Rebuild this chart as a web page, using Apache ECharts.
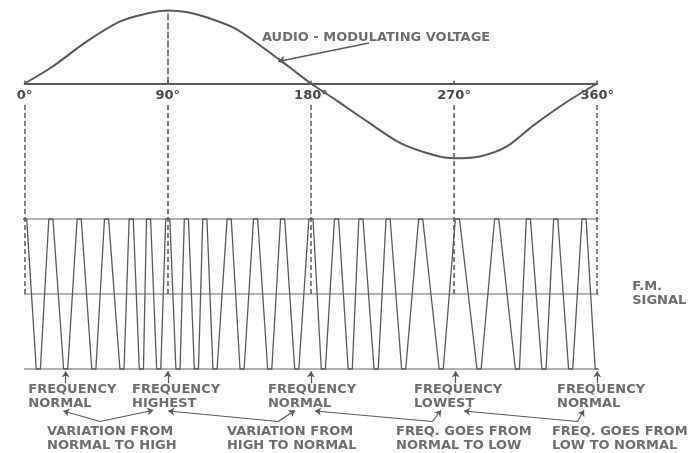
<!DOCTYPE html>
<html><head><meta charset="utf-8">
<script src="https://cdn.jsdelivr.net/npm/echarts@6/dist/echarts.min.js"></script>
<style>html,body{margin:0;padding:0;background:#fff}#c{width:688px;height:453px}</style>
</head><body><div id="c"></div>
<script>
// ---------- data (angles in degrees of the audio cycle) ----------
const tickDegrees = [0, 90, 180, 270, 360];

// audio-modulating voltage (+1 = positive peak)
const sineDeg = [0, 17.4, 38.7, 60, 77, 90, 102.5, 115.2, 132.2, 149.1, 166.1, 180, 195.3, 216, 236.6, 257.2, 270, 286.2, 302.9, 319.5, 340.3, 360];
const sineVal = [0, 0.23, 0.57, 0.85, 0.96, 1.0, 0.975, 0.9, 0.756, 0.504, 0.23, 0, -0.22, -0.53, -0.82, -0.98, -1.025, -1.0, -0.866, -0.58, -0.26, 0];

// F.M. signal: crest and trough positions
const fmPeakDeg = [0, 16.5, 34.3, 51.5, 67.0, 77.9, 90, 101.7, 113.3, 128.6, 145.2, 162.2, 180, 196.1, 211.4, 228.5, 249.0, 272.1, 296.8, 316.7, 333.9, 351.7];
const fmTroughDeg = [8.6, 25.8, 43.5, 61.2, 73.4, 84.3, 96.4, 108.0, 119.7, 136.7, 154.1, 171.1, 187.8, 204.7, 221.0, 238.3, 261.9, 285.7, 309.8, 326.5, 343.3, 360];
const fmStartDeg = -4.2;
const fmEndDeg = 365.5;

// reference lines of the F.M. signal (level, start, end)
const refLevel = [1, 0, -1];
const refStartDeg = [-11.1, -9.8, -4.2];
const refEndDeg = [365.5, 378.1, 371.2];

// annotations
const curveLabel = 'AUDIO - MODULATING VOLTAGE';
const signalLabel = 'F.M.\nSIGNAL';
const stateLabels = ['FREQUENCY\nNORMAL', 'FREQUENCY\nHIGHEST', 'FREQUENCY\nNORMAL', 'FREQUENCY\nLOWEST', 'FREQUENCY\nNORMAL'];
const stateLabelDeg = [2.3, 67.5, 153.0, 244.8, 334.7];
const stateArrowDeg = [25.8, 90, 180, 271, 360];
const changeLabels = ['VARIATION FROM\nNORMAL TO HIGH', 'VARIATION FROM\nHIGH TO NORMAL', 'FREQ. GOES FROM\nNORMAL TO LOW', 'FREQ. GOES FROM\nLOW TO NORMAL'];
const changeLabelDeg = [14.1, 127.2, 233.5, 331.5];
const changeApexDeg = [47.4, 159.5, 256.3, 347.5];
const changeLeftDeg = [24.3, 90.3, 182.5, 276.2];
const changeRightDeg = [80.9, 170.0, 261.8, 351.7];

// ---------- style ----------
const LINE = '#5b5b5b';
const TEXT = '#4a4a4a';
const FONT = 'DejaVu Sans';
const FLAT = 1.3;            // half-width of flattened crests (deg)
const labelStyle = {show: true, position: 'right', distance: 0, color: TEXT, fontFamily: FONT, fontWeight: 'bold', fontSize: 13, lineHeight: 14, formatter: '{b}'};

// ---------- build ----------
const sineData = sineDeg.map((d, i) => [d, sineVal[i]]);
const ext = fmPeakDeg.map(d => [d, 1]).concat(fmTroughDeg.map(d => [d, -1])).sort((a, b) => a[0] - b[0]);
const fmData = [[fmStartDeg, 0]];
ext.forEach(([d, v]) => { fmData.push([d - FLAT, v], [d + FLAT, v]); });
fmData.push([fmEndDeg, 0]);

const fmMarks = [];
// dashed guides
tickDegrees.forEach(d => fmMarks.push([
  {coord: [d, 2.52], symbol: 'none', lineStyle: {type: [5, 3], width: 1.5, color: LINE}},
  {coord: [d, 0], symbol: 'none'}
]));
// small arrows up to the bottom line
stateArrowDeg.forEach(d => fmMarks.push([
  {coord: [d, -1.19], symbol: 'none'},
  {coord: [d, -1.03], symbol: 'arrow'}
]));
// leader lines
changeApexDeg.forEach((a, i) => {
  fmMarks.push([{coord: [a, -1.70], symbol: 'none'}, {coord: [changeLeftDeg[i], -1.56], symbol: 'arrow'}]);
  fmMarks.push([{coord: [a, -1.70], symbol: 'none'}, {coord: [changeRightDeg[i], -1.55], symbol: 'arrow'}]);
});

const series = [];
series.push({
  type: 'line', xAxisIndex: 0, yAxisIndex: 0, data: sineData, smooth: 0.3, showSymbol: false, clip: false,
  lineStyle: {color: LINE, width: 2},
  markLine: {
    silent: true, animation: false, label: {show: false}, symbolSize: 7,
    lineStyle: {type: 'solid', color: LINE, width: 1.5},
    data: [
      [{coord: [90, 0], symbol: 'none', lineStyle: {type: [7, 2], width: 1.5, color: LINE}}, {coord: [90, 1], symbol: 'none'}],
      [{coord: [216.5, 0.555], symbol: 'none'}, {coord: [159.3, 0.30], symbol: 'arrow'}]
    ]
  }
});
refLevel.forEach((lv, i) => series.push({
  type: 'line', xAxisIndex: 1, yAxisIndex: 1, data: [[refStartDeg[i], lv], [refEndDeg[i], lv]],
  showSymbol: false, clip: false, lineStyle: {color: '#6a6a6a', width: 1.2}
}));
series.push({
  type: 'line', xAxisIndex: 1, yAxisIndex: 1, data: fmData, showSymbol: false, clip: false,
  lineStyle: {color: LINE, width: 1.3},
  markLine: {
    silent: true, animation: false, label: {show: false}, symbolSize: 6,
    lineStyle: {type: 'solid', color: LINE, width: 1.2},
    data: fmMarks
  }
});
series.push({
  type: 'scatter', xAxisIndex: 0, yAxisIndex: 0, symbolSize: 0, clip: false, silent: true,
  label: labelStyle,
  data: [{name: curveLabel, value: [149.2, 0.623]}]
});
series.push({
  type: 'scatter', xAxisIndex: 1, yAxisIndex: 1, symbolSize: 0, clip: false, silent: true,
  label: labelStyle,
  data: [{name: signalLabel, value: [382.0, 0.01]}]
    .concat(stateLabels.map((t, i) => ({name: t, value: [stateLabelDeg[i], -1.365]})))
    .concat(changeLabels.map((t, i) => ({name: t, value: [changeLabelDeg[i], -1.925]})))
});

const chart = echarts.init(document.getElementById('c'), null, {renderer: 'canvas'});
chart.setOption({
  animation: false,
  backgroundColor: '#ffffff',
  grid: [
    {left: 24.64, top: 10.5, width: 572.6, height: 73, outerBoundsMode: 'none', containLabel: false},
    {left: 24.64, top: 99, width: 572.6, height: 360, outerBoundsMode: 'none', containLabel: false}
  ],
  xAxis: [
    {gridIndex: 0, type: 'value', min: 0, max: 360, interval: 90,
     axisLine: {show: true, onZero: false, lineStyle: {color: LINE, width: 2}},
     axisTick: {show: true, inside: true, length: 3, lineStyle: {color: LINE, width: 1.5}},
     axisLabel: {show: true, margin: 6, formatter: '{value}°', color: TEXT, fontFamily: FONT, fontWeight: 'bold', fontSize: 13, showMinLabel: true, showMaxLabel: true, hideOverlap: false},
     splitLine: {show: false}},
    {gridIndex: 1, type: 'value', min: 0, max: 360, show: false, splitLine: {show: false}}
  ],
  yAxis: [
    {gridIndex: 0, type: 'value', min: 0, max: 1, show: false, splitLine: {show: false}},
    {gridIndex: 1, type: 'value', min: -2.2, max: 2.6, show: false, splitLine: {show: false}}
  ],
  series: series
});
</script></body></html>
